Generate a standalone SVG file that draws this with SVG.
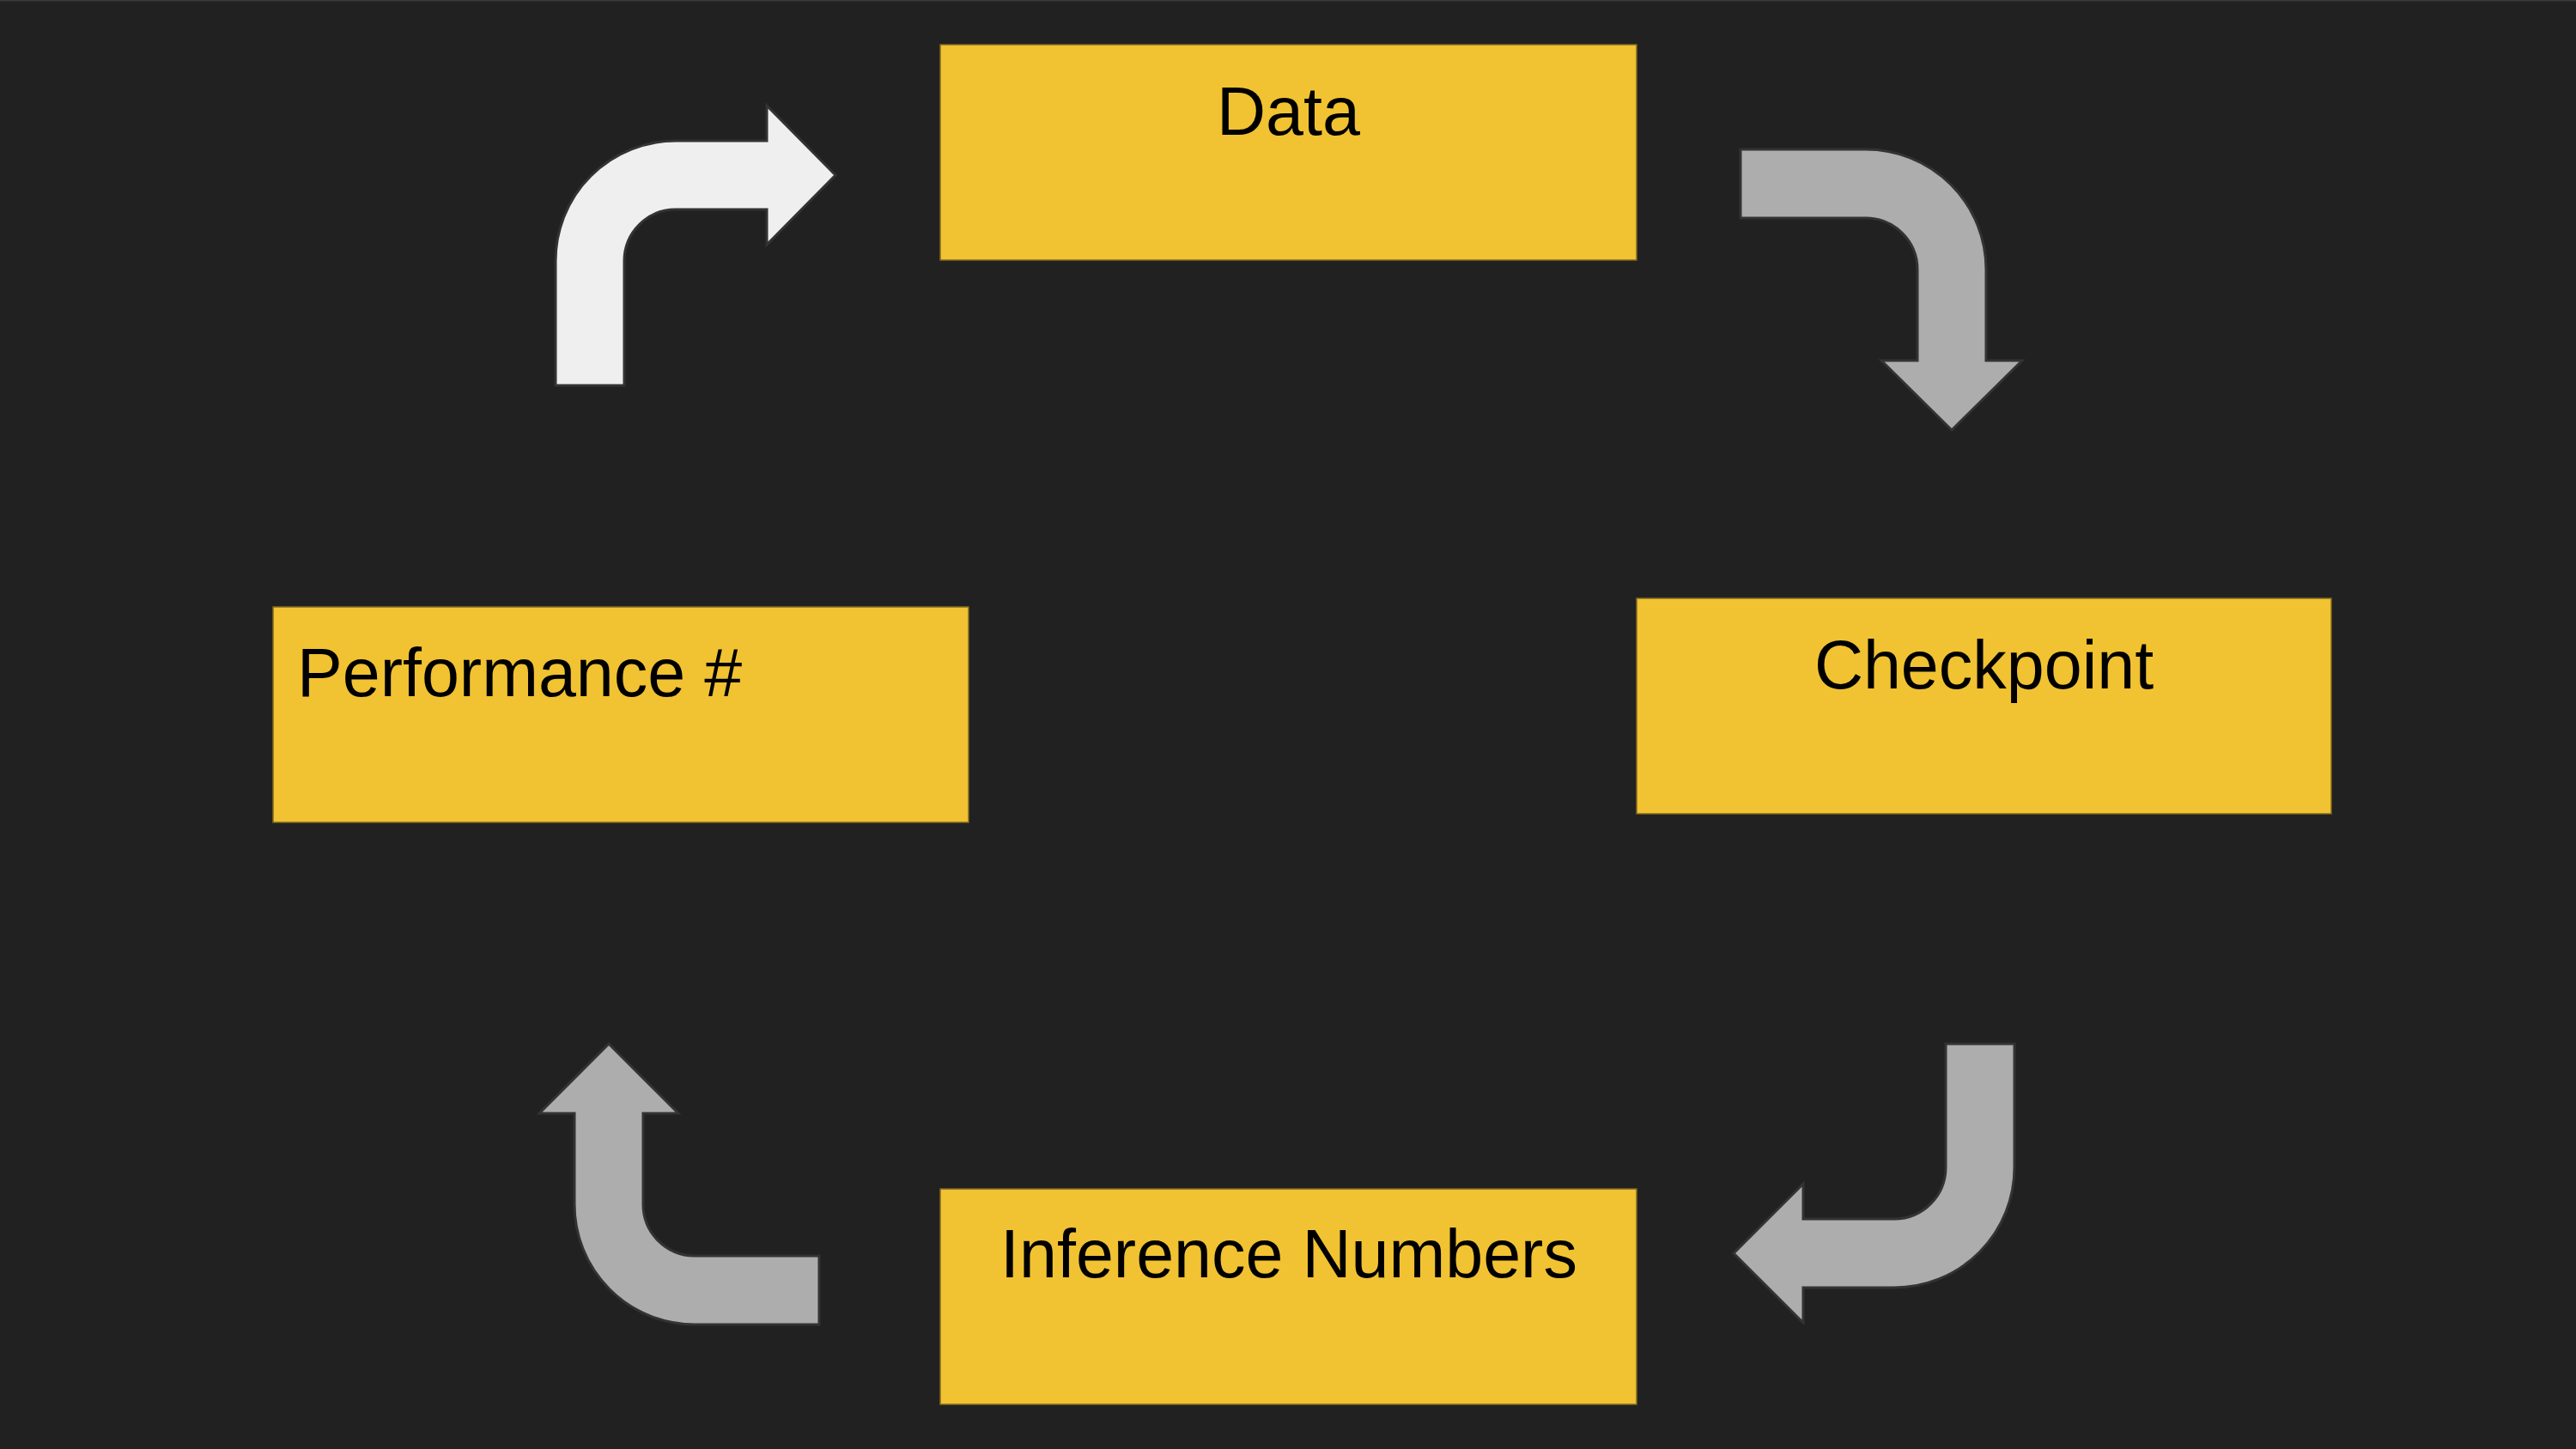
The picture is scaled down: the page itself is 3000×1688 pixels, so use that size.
<svg xmlns="http://www.w3.org/2000/svg" width="3000" height="1688" viewBox="0 0 3000 1688">
<style>
.box{fill:#f1c232;stroke:#7f6a1e;stroke-width:1.5}
.lbl{font-family:"Liberation Sans",Arial,sans-serif;font-size:79px;fill:#000}
.arr{stroke:#333333;stroke-width:3;stroke-linejoin:miter}
.white{fill:#efefef}
.gray{fill:#adadad}
</style>
<rect x="0" y="0" width="3000" height="1688" fill="#212121"/>
<rect x="0" y="0" width="3000" height="1.5" fill="#3a3a3a"/>
<g id="node-data">
<rect class="box" x="1095" y="52" width="811" height="251"/>
<text class="lbl" x="1500.5" y="157" text-anchor="middle">Data</text>
</g>
<g id="node-checkpoint">
<rect class="box" x="1906" y="697" width="809" height="251"/>
<text class="lbl" x="2310.5" y="802" text-anchor="middle">Checkpoint</text>
</g>
<g id="node-inference">
<rect class="box" x="1095" y="1385" width="811" height="251"/>
<text class="lbl" x="1501" y="1488" text-anchor="middle">Inference Numbers</text>
</g>
<g id="node-performance">
<rect class="box" x="318" y="707" width="810" height="251"/>
<text class="lbl" x="346" y="811">Performance #</text>
</g>
<g id="connectors">
<path class="arr white" d="M647,449 L647,304 A140,140 0 0 1 787,164 L893,164 L893,123 L973,204 L893,285 L893,244 L787,244 A60,60 0 0 0 727,304 L727,449 Z"/>
<path class="arr gray" d="M2027,174 L2173,174 A140,140 0 0 1 2313,314 L2313,420 L2355,420 L2273,501 L2191,420 L2233,420 L2233,314 A60,60 0 0 0 2173,254 L2027,254 Z"/>
<path class="arr gray" d="M2266,1216 L2346,1216 L2346,1360 A140,140 0 0 1 2206,1500 L2100,1500 L2100,1541 L2019,1460 L2100,1379 L2100,1420 L2206,1420 A60,60 0 0 0 2266,1360 Z"/>
<path class="arr gray" d="M954,1463 L809,1463 A60,60 0 0 1 749,1403 L749,1297 L790,1297 L709,1216 L628,1297 L669,1297 L669,1403 A140,140 0 0 0 809,1543 L954,1543 Z"/>
</g>
</svg>
